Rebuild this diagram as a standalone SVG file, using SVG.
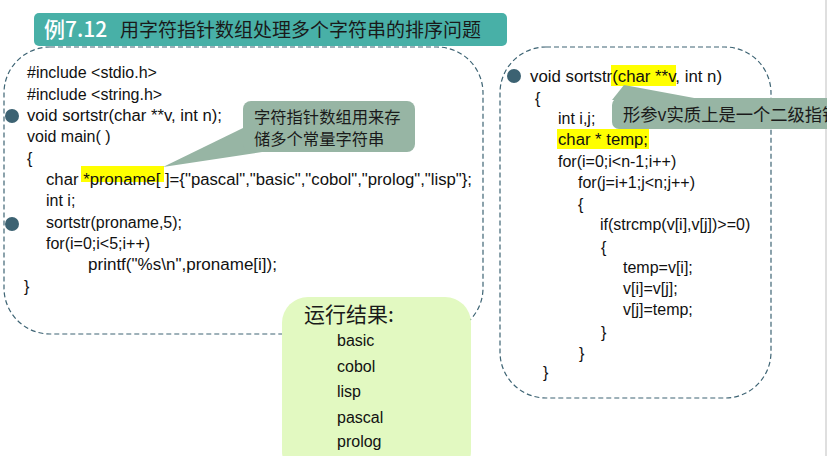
<svg xmlns="http://www.w3.org/2000/svg" width="827" height="456" viewBox="0 0 827 456">
<style>
.code{font-family:"Liberation Sans",Arial,sans-serif;font-size:16px;fill:#111}
.cjk{font-family:"Noto Sans CJK SC","Liberation Sans",sans-serif}
.dash{fill:none;stroke:#3E6474;stroke-width:1.2;stroke-dasharray:5 3}
.hl{fill:#FFFF00}
.bullet{fill:#3C6272}
.callout{fill:#97B5A4}
</style>
<rect x="0" y="0" width="827" height="456" fill="#ffffff"/>
<line x1="826" y1="0" x2="826" y2="456" stroke="#D4D4D4" stroke-width="1.5"/>
<g id="title">
<rect x="34" y="13" width="473" height="33" rx="5" fill="#48B0A7"/>
<text x="44" y="37" class="cjk" font-size="21" font-weight="500" fill="#ffffff">例7.12</text>
<text x="120" y="37" class="cjk" font-size="19" fill="#1a1a1a">用字符指针数组处理多个字符串的排序问题</text>
</g>
<g id="main-box">
<rect x="4" y="47" width="479" height="287" rx="46" class="dash"/>
<rect x="81" y="166" width="83" height="16" class="hl"/>
<circle cx="12" cy="116" r="7" class="bullet"/>
<circle cx="12" cy="224" r="7" class="bullet"/>
<text class="code" x="27" y="78">#include &lt;stdio.h&gt;</text>
<text class="code" x="27" y="100">#include &lt;string.h&gt;</text>
<text class="code" x="27" y="121" textLength="195" lengthAdjust="spacingAndGlyphs">void sortstr(char **v, int n);</text>
<text class="code" x="27" y="142">void main( )</text>
<text class="code" x="27" y="164">{</text>
<text class="code" x="46" y="185" textLength="426" lengthAdjust="spacingAndGlyphs">char *proname[ ]={"pascal","basic","cobol","prolog","lisp"};</text>
<text class="code" x="46" y="206">int i;</text>
<text class="code" x="46" y="228">sortstr(proname,5);</text>
<text class="code" x="46" y="249">for(i=0;i&lt;5;i++)</text>
<text class="code" x="88" y="270" textLength="189" lengthAdjust="spacingAndGlyphs">printf("%s\n",proname[i]);</text>
<text class="code" x="24" y="292">}</text>
</g>
<g id="sortstr-box">
<rect x="500" y="47" width="271" height="351" rx="46" class="dash"/>
<rect x="611" y="65" width="65" height="21" class="hl"/>
<rect x="557" y="129" width="92" height="20" class="hl"/>
<circle cx="514" cy="76" r="7" class="bullet"/>
<text class="code" x="530" y="82" textLength="192" lengthAdjust="spacingAndGlyphs">void sortstr(char **v, int n)</text>
<text class="code" x="535" y="104">{</text>
<text class="code" x="558" y="124">int i,j;</text>
<text class="code" x="558" y="145" textLength="90" lengthAdjust="spacingAndGlyphs">char * temp;</text>
<text class="code" x="558" y="167">for(i=0;i&lt;n-1;i++)</text>
<text class="code" x="578" y="188">for(j=i+1;j&lt;n;j++)</text>
<text class="code" x="578" y="210">{</text>
<text class="code" x="600" y="230">if(strcmp(v[i],v[j])&gt;=0)</text>
<text class="code" x="601" y="253">{</text>
<text class="code" x="623" y="273">temp=v[i];</text>
<text class="code" x="623" y="294">v[i]=v[j];</text>
<text class="code" x="623" y="315">v[j]=temp;</text>
<text class="code" x="601" y="338">}</text>
<text class="code" x="579" y="359">}</text>
<text class="code" x="543" y="378">}</text>
</g>
<g id="callout-array">
<polygon points="243,128 163,167 262,152" class="callout"/>
<rect x="243" y="101" width="172" height="51" rx="8" class="callout"/>
<text class="cjk" x="254" y="123" font-size="16.3" fill="#1a1a1a">字符指针数组用来存</text>
<text class="cjk" x="254" y="145" font-size="16.3" fill="#1a1a1a">储多个常量字符串</text>
</g>
<g id="callout-param">
<polygon points="612,100 624,85 705,100" class="callout"/>
<rect x="612" y="98" width="240" height="31" rx="7" class="callout"/>
<text class="cjk" x="623" y="121" font-size="17.3" fill="#1a1a1a">形参v实质上是一个二级指针</text>
</g>
<g id="result">
<rect x="282" y="297" width="189" height="180" rx="26" fill="#E2F9C1"/>
<text class="cjk" x="304" y="322" font-size="21" fill="#1a1a1a">运行结果:</text>
<text class="code" x="337" y="346" font-size="18.5">basic</text>
<text class="code" x="337" y="372" font-size="18.5">cobol</text>
<text class="code" x="337" y="397" font-size="18.5">lisp</text>
<text class="code" x="337" y="423" font-size="18.5">pascal</text>
<text class="code" x="337" y="447" font-size="18.5">prolog</text>
</g>
</svg>
